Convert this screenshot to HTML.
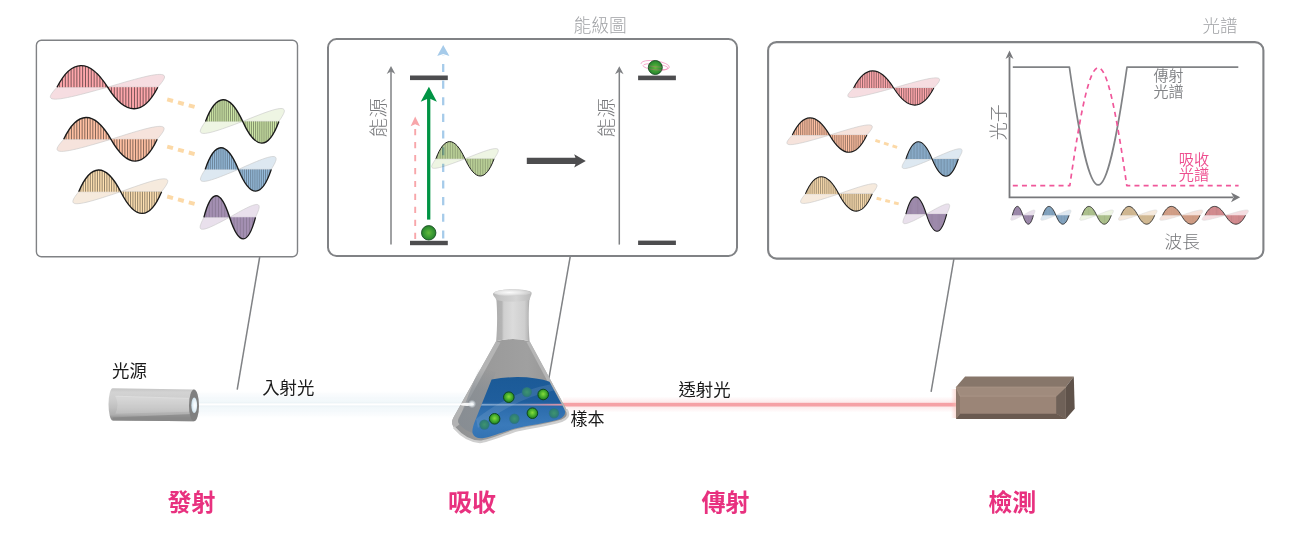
<!DOCTYPE html>
<html lang="zh-Hant"><head><meta charset="utf-8"><title>光譜</title>
<style>
html,body{margin:0;padding:0;background:#fff;}
body{width:1294px;height:541px;overflow:hidden;font-family:"Liberation Sans","Noto Sans CJK TC",sans-serif;}
svg{display:block;will-change:transform}
text{font-family:"Liberation Sans","Noto Sans CJK TC",sans-serif;}
.t{font-weight:300;fill:#a0a2a5;font-size:17.3px}
.ax{font-weight:300;fill:#77787b;font-size:18.5px}
.lb{font-weight:400;fill:#1a1a1a;font-size:17.4px}
.st{font-weight:700;fill:#e8317f;font-size:24px}
</style></head><body>
<svg width="1294" height="541" viewBox="0 0 1294 541">
<defs>
<linearGradient id="cyl" x1="0" y1="0" x2="0" y2="1"><stop offset="0" stop-color="#c4c4c4"/><stop offset="0.12" stop-color="#d3d3d3"/><stop offset="0.35" stop-color="#cdcdcd"/><stop offset="0.6" stop-color="#bfbfbf"/><stop offset="0.8" stop-color="#aeaeae"/><stop offset="0.9" stop-color="#919191"/><stop offset="1" stop-color="#8a8a8a"/></linearGradient>
<linearGradient id="beam" x1="0" y1="0" x2="0" y2="1"><stop offset="0" stop-color="#eaf3f8" stop-opacity="0"/><stop offset="0.28" stop-color="#edf5f9" stop-opacity="0.6"/><stop offset="0.44" stop-color="#f1f7fa" stop-opacity="0.95"/><stop offset="0.56" stop-color="#f1f7fa" stop-opacity="0.95"/><stop offset="0.72" stop-color="#edf5f9" stop-opacity="0.6"/><stop offset="1" stop-color="#eaf3f8" stop-opacity="0"/></linearGradient>
<linearGradient id="rglow" x1="0" y1="0" x2="0" y2="1"><stop offset="0" stop-color="#f9c6c8" stop-opacity="0"/><stop offset="0.5" stop-color="#f9c6c8" stop-opacity="0.5"/><stop offset="1" stop-color="#f9c6c8" stop-opacity="0"/></linearGradient>
<linearGradient id="rend" x1="0" y1="0" x2="1" y2="0"><stop offset="0" stop-color="#f9b9b4" stop-opacity="0"/><stop offset="1" stop-color="#f9c3b8" stop-opacity="0.6"/></linearGradient>
<linearGradient id="inbeam" x1="0" y1="0" x2="1" y2="0"><stop offset="0" stop-color="#dbe7f5" stop-opacity="0.55"/><stop offset="0.45" stop-color="#b9cbe6" stop-opacity="0.5"/><stop offset="0.75" stop-color="#e39aae" stop-opacity="0.8"/><stop offset="1" stop-color="#f59aa0" stop-opacity="0.95"/></linearGradient>
<radialGradient id="glow" cx="0.5" cy="0.5" r="0.5"><stop offset="0" stop-color="#ffffff" stop-opacity="0.95"/><stop offset="0.5" stop-color="#eef4f8" stop-opacity="0.7"/><stop offset="1" stop-color="#dfe9f0" stop-opacity="0"/></radialGradient>
<radialGradient id="hole" cx="0.6" cy="0.5" r="0.6"><stop offset="0" stop-color="#ffffff"/><stop offset="0.6" stop-color="#e3f0f7"/><stop offset="1" stop-color="#c4d9e4"/></radialGradient>
<radialGradient id="ball" cx="0.5" cy="0.5" r="0.55"><stop offset="0" stop-color="#64b93c"/><stop offset="0.55" stop-color="#3a9a34"/><stop offset="1" stop-color="#237a2a"/></radialGradient>
<radialGradient id="ballb" cx="0.5" cy="0.45" r="0.55"><stop offset="0" stop-color="#86dc3c"/><stop offset="0.55" stop-color="#45ad2c"/><stop offset="1" stop-color="#1d7a24"/></radialGradient>
<radialGradient id="balld" cx="0.5" cy="0.5" r="0.5"><stop offset="0" stop-color="#3f9470"/><stop offset="0.75" stop-color="#2f7f74"/><stop offset="1" stop-color="#2a6f86" stop-opacity="0.85"/></radialGradient>
<linearGradient id="neck" x1="0" y1="0" x2="1" y2="0"><stop offset="0" stop-color="#adadad"/><stop offset="0.17" stop-color="#b4b4b4"/><stop offset="0.23" stop-color="#cfcfcf"/><stop offset="0.5" stop-color="#dbdbdb"/><stop offset="0.85" stop-color="#cecece"/><stop offset="0.94" stop-color="#bcbcbc"/><stop offset="1" stop-color="#a5a5a5"/></linearGradient>
<linearGradient id="rim" x1="0" y1="0" x2="1" y2="0"><stop offset="0" stop-color="#b9b9b9"/><stop offset="0.2" stop-color="#c6c6c6"/><stop offset="0.6" stop-color="#d4d4d4"/><stop offset="1" stop-color="#b9b9b9"/></linearGradient>
<radialGradient id="rimtop" cx="0.42" cy="0.45" r="0.62"><stop offset="0" stop-color="#fbfbfb"/><stop offset="0.5" stop-color="#e6e6e6"/><stop offset="1" stop-color="#c6c6c6"/></radialGradient>
<linearGradient id="cone" x1="0" y1="0" x2="1" y2="0"><stop offset="0" stop-color="#8d8f91"/><stop offset="0.3" stop-color="#9a9a9a"/><stop offset="0.65" stop-color="#a0a0a0"/><stop offset="1" stop-color="#909090"/></linearGradient>
<linearGradient id="liq" x1="0" y1="0" x2="0" y2="1"><stop offset="0" stop-color="#1b5a97"/><stop offset="0.40" stop-color="#1f5e9d"/><stop offset="0.50" stop-color="#2c6cac"/><stop offset="0.78" stop-color="#3a7aba"/><stop offset="1" stop-color="#3373b3"/></linearGradient>
<linearGradient id="lglass" x1="0" y1="0" x2="0" y2="1"><stop offset="0" stop-color="#858c93" stop-opacity="0"/><stop offset="0.35" stop-color="#858c93" stop-opacity="0.6"/><stop offset="1" stop-color="#858c93" stop-opacity="0.8"/></linearGradient>
</defs>

<g fill="none" stroke="#808285">
<rect x="36.4" y="40.2" width="261.1" height="216.6" rx="5" ry="5" stroke-width="1.4"/>
<rect x="328" y="39.1" width="409" height="216.8" rx="8.5" ry="8.5" stroke-width="2"/>
<rect x="768.1" y="42.1" width="495.3" height="216.5" rx="8.5" ry="8.5" stroke-width="2.1"/>
</g>
<g fill="none" stroke="#808285" stroke-width="1.5">
<path d="M259.7 257L237.2 389.6"/>
<path d="M570.3 256.2L548.9 378.3"/>
<path d="M953.9 258.9L931.1 391.8"/>
</g>
<text class="t" style="font-size:17.8px" x="573.5" y="31.6">能級圖</text>
<text class="t" style="font-size:17.5px" x="1202.4" y="31.6">光譜</text>
<g id="box1">
<path d="M57 87.2 L55.58 88.76 L54.23 90.3 L52.99 91.79 L51.93 93.19 L51.11 94.5 L50.56 95.68 L50.34 96.71 L50.48 97.58 L51.03 98.28 L52 98.78 L53.42 99.09 L55.3 99.19 L57.64 99.09 L60.44 98.78 L63.68 98.28 L67.35 97.58 L71.42 96.71 L75.86 95.68 L80.62 94.5 L85.67 93.19 L90.94 91.79 L96.4 90.3 L101.97 88.76 L107.6 87.2 L113.22 85.53 L118.77 83.88 L124.21 82.29 L129.47 80.79 L134.49 79.39 L139.24 78.13 L143.66 77.02 L147.72 76.09 L151.37 75.35 L154.6 74.81 L157.38 74.48 L159.7 74.37 L161.56 74.48 L162.96 74.81 L163.92 75.35 L164.45 76.09 L164.58 77.02 L164.34 78.13 L163.78 79.39 L162.93 80.79 L161.86 82.29 L160.6 83.88 L159.23 85.53 L157.8 87.2Z" fill="#f6dde1" stroke="#c6c6c6" stroke-width="0.6"/>
<path d="M57 87.2C71.37 59.16 89.08 57.66 107.6 87.2C125.97 116.74 143.54 115.24 157.8 87.2Z" fill="#ffa7ac"/>
<path d="M59.59 87.2V82.51M62.47 87.2V78.04M65.35 87.2V74.35M68.23 87.2V71.34M71.11 87.2V69.02M73.99 87.2V67.31M76.87 87.2V66.2M79.75 87.2V65.67M82.63 87.2V65.69M85.51 87.2V66.25M88.39 87.2V67.32M91.27 87.2V68.91M94.15 87.2V71M97.03 87.2V73.59M99.91 87.2V76.66M102.79 87.2V80.21M105.67 87.2V84.24M108.55 87.2V88.69M111.43 87.2V92.92M114.31 87.2V96.66M117.19 87.2V99.92M120.07 87.2V102.66M122.95 87.2V104.92M125.83 87.2V106.66M128.71 87.2V107.9M131.59 87.2V108.62M134.47 87.2V108.78M137.35 87.2V108.38M140.23 87.2V107.42M143.11 87.2V105.86M145.99 87.2V103.65M148.87 87.2V100.8M151.75 87.2V97.22M154.63 87.2V92.9" stroke="#1a1a1a" stroke-opacity="0.85" stroke-width="0.6854399999999999" fill="none"/>
<path d="M57 87.2C71.37 59.16 89.08 57.66 107.6 87.2C125.97 116.74 143.54 115.24 157.8 87.2" fill="none" stroke="#1a1a1a" stroke-width="1.35" stroke-linejoin="round"/>
<path d="M63.7 139.3 L62.31 140.88 L60.99 142.43 L59.77 143.93 L58.73 145.35 L57.9 146.67 L57.34 147.86 L57.1 148.9 L57.2 149.78 L57.68 150.48 L58.57 150.99 L59.89 151.3 L61.64 151.4 L63.83 151.3 L66.46 150.99 L69.51 150.48 L72.97 149.78 L76.81 148.9 L80.99 147.86 L85.49 146.67 L90.26 145.35 L95.25 143.93 L100.4 142.43 L105.67 140.88 L111 139.3 L116.28 137.61 L121.5 135.95 L126.61 134.35 L131.56 132.83 L136.28 131.42 L140.73 130.15 L144.87 129.03 L148.67 128.09 L152.08 127.34 L155.09 126.8 L157.67 126.46 L159.81 126.35 L161.52 126.46 L162.79 126.8 L163.63 127.34 L164.07 128.09 L164.12 129.03 L163.83 130.15 L163.23 131.42 L162.36 132.83 L161.26 134.35 L160 135.95 L158.63 137.61 L157.2 139.3Z" fill="#f6e3dc" stroke="#c6c6c6" stroke-width="0.6"/>
<path d="M63.7 139.3C77.13 111 93.69 109.48 111 139.3C127.91 169.12 144.08 167.6 157.2 139.3Z" fill="#ffc0a2"/>
<path d="M66.1 139.3V134.6M68.78 139.3V130.11M71.45 139.3V126.4M74.12 139.3V123.38M76.79 139.3V121.02M79.46 139.3V119.29M82.13 139.3V118.15M84.8 139.3V117.58M87.48 139.3V117.57M90.15 139.3V118.1M92.82 139.3V119.13M95.49 139.3V120.67M98.16 139.3V122.71M100.83 139.3V125.25M103.5 139.3V128.28M106.18 139.3V131.78M108.85 139.3V135.76M111.52 139.3V140.19M114.19 139.3V144.56M116.86 139.3V148.42M119.53 139.3V151.79M122.2 139.3V154.65M124.88 139.3V156.99M127.55 139.3V158.81M130.22 139.3V160.11M132.89 139.3V160.88M135.56 139.3V161.09M138.23 139.3V160.72M140.9 139.3V159.77M143.58 139.3V158.21M146.25 139.3V155.98M148.92 139.3V153.1M151.59 139.3V149.47M154.26 139.3V145.1" stroke="#1a1a1a" stroke-opacity="0.85" stroke-width="0.6357999999999999" fill="none"/>
<path d="M63.7 139.3C77.13 111 93.69 109.48 111 139.3C127.91 169.12 144.08 167.6 157.2 139.3" fill="none" stroke="#1a1a1a" stroke-width="1.35" stroke-linejoin="round"/>
<path d="M78.7 191.7 L77.47 193.27 L76.3 194.82 L75.23 196.31 L74.3 197.72 L73.57 199.03 L73.08 200.22 L72.86 201.25 L72.96 202.13 L73.39 202.83 L74.18 203.33 L75.35 203.64 L76.9 203.74 L78.85 203.64 L81.18 203.33 L83.89 202.83 L86.96 202.13 L90.36 201.25 L94.08 200.22 L98.07 199.03 L102.3 197.72 L106.73 196.31 L111.3 194.82 L115.97 193.27 L120.7 191.7 L125.38 190.02 L130.01 188.36 L134.54 186.77 L138.92 185.26 L143.1 183.86 L147.05 182.59 L150.72 181.48 L154.08 180.54 L157.1 179.79 L159.76 179.25 L162.05 178.92 L163.95 178.81 L165.46 178.92 L166.58 179.25 L167.32 179.79 L167.71 180.54 L167.76 181.48 L167.5 182.59 L166.96 183.86 L166.18 185.26 L165.21 186.77 L164.09 188.36 L162.87 190.02 L161.6 191.7Z" fill="#f6eadd" stroke="#c6c6c6" stroke-width="0.6"/>
<path d="M78.7 191.7C90.63 163.53 105.33 162.02 120.7 191.7C135.67 221.38 149.98 219.87 161.6 191.7Z" fill="#ffe1b2"/>
<path d="M80.83 191.7V187.02M83.2 191.7V182.57M85.57 191.7V178.88M87.94 191.7V175.87M90.31 191.7V173.52M92.67 191.7V171.8M95.04 191.7V170.66M97.41 191.7V170.08M99.78 191.7V170.07M102.15 191.7V170.58M104.52 191.7V171.6M106.89 191.7V173.13M109.25 191.7V175.15M111.62 191.7V177.66M113.99 191.7V180.65M116.36 191.7V184.12M118.73 191.7V188.07M123.47 191.7V196.83M125.83 191.7V200.69M128.2 191.7V204.06M130.57 191.7V206.92M132.94 191.7V209.27M135.31 191.7V211.1M137.68 191.7V212.4M140.05 191.7V213.17M142.41 191.7V213.39M144.78 191.7V213.03M147.15 191.7V212.08M149.52 191.7V210.54M151.89 191.7V208.32M154.26 191.7V205.45M156.63 191.7V201.84M158.99 191.7V197.48" stroke="#1a1a1a" stroke-opacity="0.85" stroke-width="0.56372" fill="none"/>
<path d="M78.7 191.7C90.63 163.53 105.33 162.02 120.7 191.7C135.67 221.38 149.98 219.87 161.6 191.7" fill="none" stroke="#1a1a1a" stroke-width="1.35" stroke-linejoin="round"/>
<path d="M205.5 121.4 L204.42 122.97 L203.38 124.52 L202.43 126.01 L201.61 127.42 L200.96 128.73 L200.53 129.92 L200.34 130.95 L200.42 131.83 L200.8 132.53 L201.5 133.03 L202.54 133.34 L203.91 133.44 L205.64 133.34 L207.7 133.03 L210.1 132.53 L212.82 131.83 L215.84 130.95 L219.13 129.92 L222.66 128.73 L226.41 127.42 L230.33 126.01 L234.38 124.52 L238.52 122.97 L242.7 121.4 L246.84 119.72 L250.94 118.06 L254.95 116.47 L258.83 114.96 L262.53 113.56 L266.02 112.29 L269.27 111.18 L272.25 110.24 L274.92 109.49 L277.28 108.95 L279.3 108.62 L280.99 108.51 L282.32 108.62 L283.31 108.95 L283.97 109.49 L284.31 110.24 L284.36 111.18 L284.12 112.29 L283.65 113.56 L282.96 114.96 L282.1 116.47 L281.11 118.06 L280.03 119.72 L278.9 121.4Z" fill="#eef5e3" stroke="#c6c6c6" stroke-width="0.6"/>
<path d="M205.5 121.4C216.06 93.23 229.08 91.72 242.7 121.4C255.95 151.08 268.62 149.57 278.9 121.4Z" fill="#cfe8a8"/>
<path d="M207.39 121.4V116.72M209.48 121.4V112.27M211.58 121.4V108.58M213.68 121.4V105.57M215.78 121.4V103.22M217.87 121.4V101.5M219.97 121.4V100.36M222.07 121.4V99.78M224.16 121.4V99.77M226.26 121.4V100.28M228.36 121.4V101.3M230.46 121.4V102.82M232.55 121.4V104.84M234.65 121.4V107.34M236.75 121.4V110.34M238.84 121.4V113.8M240.94 121.4V117.74M245.14 121.4V126.51M247.23 121.4V130.38M249.33 121.4V133.74M251.43 121.4V136.61M253.52 121.4V138.96M255.62 121.4V140.79M257.72 121.4V142.1M259.82 121.4V142.87M261.91 121.4V143.09M264.01 121.4V142.73M266.11 121.4V141.79M268.2 121.4V140.24M270.3 121.4V138.03M272.4 121.4V135.16M274.5 121.4V131.54M276.59 121.4V127.18" stroke="#1a1a1a" stroke-opacity="0.85" stroke-width="0.49912" fill="none"/>
<path d="M205.5 121.4C216.06 93.23 229.08 91.72 242.7 121.4C255.95 151.08 268.62 149.57 278.9 121.4" fill="none" stroke="#1a1a1a" stroke-width="1.35" stroke-linejoin="round"/>
<path d="M205.2 169.4 L204.21 170.97 L203.26 172.52 L202.39 174.01 L201.64 175.42 L201.05 176.73 L200.65 177.92 L200.46 178.95 L200.52 179.83 L200.86 180.53 L201.48 181.03 L202.39 181.34 L203.62 181.44 L205.16 181.34 L207.01 181.03 L209.16 180.53 L211.59 179.83 L214.3 178.95 L217.25 177.92 L220.42 176.73 L223.78 175.42 L227.29 174.01 L230.93 172.52 L234.64 170.97 L238.4 169.4 L242.14 167.72 L245.85 166.06 L249.47 164.47 L252.97 162.96 L256.32 161.56 L259.48 160.29 L262.42 159.18 L265.11 158.24 L267.53 157.49 L269.67 156.95 L271.5 156.62 L273.03 156.51 L274.24 156.62 L275.15 156.95 L275.76 157.49 L276.08 158.24 L276.13 159.18 L275.93 160.29 L275.51 161.56 L274.91 162.96 L274.14 164.47 L273.26 166.06 L272.3 167.72 L271.3 169.4Z" fill="#dde8f1" stroke="#c6c6c6" stroke-width="0.6"/>
<path d="M205.2 169.4C214.63 141.23 226.25 139.72 238.4 169.4C250.44 199.08 261.96 197.57 271.3 169.4Z" fill="#9cc4e6"/>
<path d="M206.9 169.4V164.69M208.79 169.4V160.2M210.68 169.4V156.49M212.57 169.4V153.48M214.45 169.4V151.14M216.34 169.4V149.42M218.23 169.4V148.3M220.12 169.4V147.77M222.01 169.4V147.79M223.9 169.4V148.35M225.79 169.4V149.42M227.67 169.4V151.01M229.56 169.4V153.11M231.45 169.4V155.7M233.34 169.4V158.78M235.23 169.4V162.35M237.12 169.4V166.39M239.01 169.4V170.85M240.89 169.4V175.11M242.78 169.4V178.88M244.67 169.4V182.15M246.56 169.4V184.92M248.45 169.4V187.18M250.34 169.4V188.94M252.23 169.4V190.19M254.11 169.4V190.91M256 169.4V191.08M257.89 169.4V190.69M259.78 169.4V189.72M261.67 169.4V188.15M263.56 169.4V185.93M265.45 169.4V183.07M267.33 169.4V179.47M269.22 169.4V175.13" stroke="#1a1a1a" stroke-opacity="0.85" stroke-width="0.44947999999999994" fill="none"/>
<path d="M205.2 169.4C214.63 141.23 226.25 139.72 238.4 169.4C250.44 199.08 261.96 197.57 271.3 169.4" fill="none" stroke="#1a1a1a" stroke-width="1.35" stroke-linejoin="round"/>
<path d="M203.9 217.3 L203.12 218.86 L202.37 220.4 L201.68 221.89 L201.09 223.29 L200.62 224.6 L200.29 225.78 L200.14 226.81 L200.18 227.68 L200.43 228.38 L200.9 228.88 L201.61 229.19 L202.56 229.29 L203.75 229.19 L205.19 228.88 L206.85 228.38 L208.74 227.68 L210.85 226.81 L213.14 225.78 L215.61 224.6 L218.22 223.29 L220.96 221.89 L223.79 220.4 L226.68 218.86 L229.6 217.3 L232.53 215.63 L235.43 213.98 L238.27 212.39 L241.01 210.89 L243.63 209.49 L246.11 208.23 L248.41 207.12 L250.52 206.19 L252.42 205.45 L254.1 204.91 L255.54 204.58 L256.74 204.47 L257.7 204.58 L258.41 204.91 L258.9 205.45 L259.16 206.19 L259.2 207.12 L259.06 208.23 L258.74 209.49 L258.28 210.89 L257.69 212.39 L257.01 213.98 L256.27 215.63 L255.5 217.3Z" fill="#e9e0ec" stroke="#c6c6c6" stroke-width="0.6"/>
<path d="M203.9 217.3C211.2 189.26 220.19 187.76 229.6 217.3C239.08 246.84 248.14 245.34 255.5 217.3Z" fill="#bda5ce"/>
<path d="M205.23 217.3V212.57M206.7 217.3V208.07M208.18 217.3V204.37M209.65 217.3V201.36M211.12 217.3V199.04M212.6 217.3V197.34M214.07 217.3V196.25M215.55 217.3V195.76M217.02 217.3V195.81M218.5 217.3V196.41M219.97 217.3V197.54M221.44 217.3V199.19M222.92 217.3V201.35M224.39 217.3V204M225.87 217.3V207.15M227.34 217.3V210.79M228.82 217.3V214.91M230.29 217.3V219.4M231.76 217.3V223.52M233.24 217.3V227.17M234.71 217.3V230.33M236.19 217.3V233.01M237.66 217.3V235.2M239.14 217.3V236.89M240.61 217.3V238.08M242.08 217.3V238.75M243.56 217.3V238.87M245.03 217.3V238.45M246.51 217.3V237.47M247.98 217.3V235.88M249.46 217.3V233.67M250.93 217.3V230.82M252.4 217.3V227.25M253.88 217.3V222.96" stroke="#1a1a1a" stroke-opacity="0.85" stroke-width="0.35087999999999997" fill="none"/>
<path d="M203.9 217.3C211.2 189.26 220.19 187.76 229.6 217.3C239.08 246.84 248.14 245.34 255.5 217.3" fill="none" stroke="#1a1a1a" stroke-width="1.35" stroke-linejoin="round"/>
<g stroke="#fcd9a7" stroke-width="4" stroke-dasharray="6 5.2" fill="none">
<path d="M167.2 99.4L196 107.3"/><path d="M167.2 146.6L196 154.5"/><path d="M167.2 196.5L196 204.3"/>
</g></g>
<g id="box2">
<path d="M391 244.6V70.8" stroke="#808285" stroke-width="1.5" fill="none"/><path d="M391 66L395.3 74L391 71.44L386.7 74Z" fill="#808285"/>
<path d="M619.3 244.6V71" stroke="#808285" stroke-width="1.5" fill="none"/><path d="M619.3 66.2L623.6 74.2L619.3 71.64L615 74.2Z" fill="#808285"/>
<text class="ax" style="font-size:18px" transform="translate(385.1 137.4) rotate(-90) scale(1.09 1)">能源</text>
<text class="ax" style="font-size:18px" transform="translate(613.2 137.4) rotate(-90) scale(1.09 1)">能源</text>
<g fill="#4d4d4f">
<rect x="410" y="75.5" width="37.8" height="4.6"/><rect x="410" y="240.8" width="37.8" height="4.4"/>
<rect x="638.1" y="75.6" width="37.8" height="4.6"/><rect x="638.1" y="240.6" width="37.8" height="4.4"/>
</g>
<path d="M443.2 238.5V55" stroke="#a6cbea" stroke-width="2.3" stroke-dasharray="8.1 8.55" fill="none"/>
<path d="M443.2 45L449.4 56L443.2 54L437.2 56Z" fill="#a6cbea"/>
<path d="M415.2 238.9V125" stroke="#f8a6aa" stroke-width="1.9" stroke-dasharray="6.2 6.75" fill="none"/>
<path d="M415.2 116.6L420 126.2L415.2 124.2L410.6 126.2Z" fill="#f8a6aa"/>
<path d="M428.7 219.6V98" stroke="#009444" stroke-width="3.3" fill="none"/>
<path d="M428.9 86.8L436.9 101.8L428.9 98.2L420.7 101.8Z" fill="#009444"/>
<g style="mix-blend-mode:multiply">
<path d="M435.9 158.8 L435.02 160.05 L434.18 161.27 L433.41 162.45 L432.75 163.57 L432.22 164.61 L431.86 165.55 L431.69 166.37 L431.74 167.07 L432.03 167.62 L432.57 168.02 L433.37 168.26 L434.44 168.35 L435.79 168.26 L437.42 168.02 L439.3 167.62 L441.44 167.07 L443.81 166.37 L446.41 165.55 L449.19 164.61 L452.15 163.57 L455.24 162.45 L458.43 161.27 L461.7 160.05 L465 158.8 L468.3 157.47 L471.57 156.16 L474.76 154.89 L477.85 153.69 L480.81 152.58 L483.59 151.58 L486.19 150.7 L488.56 149.95 L490.7 149.36 L492.58 148.93 L494.21 148.67 L495.55 148.59 L496.63 148.67 L497.43 148.93 L497.97 149.36 L498.26 149.95 L498.31 150.7 L498.14 151.58 L497.78 152.58 L497.25 153.69 L496.59 154.89 L495.82 156.16 L494.98 157.47 L494.1 158.8Z" fill="#eef5e3" stroke="#c6c6c6" stroke-width="0.6"/>
<path d="M435.9 158.8C444.16 136.47 454.35 135.27 465 158.8C475.65 182.33 485.84 181.13 494.1 158.8Z" fill="#cfe8a8"/>
<path d="M437.4 158.8V155.05M439.06 158.8V151.48M440.72 158.8V148.53M442.39 158.8V146.14M444.05 158.8V144.29M445.71 158.8V142.94M447.37 158.8V142.05M449.04 158.8V141.65M450.7 158.8V141.68M452.36 158.8V142.14M454.03 158.8V143.01M455.69 158.8V144.31M457.35 158.8V146M459.01 158.8V148.09M460.68 158.8V150.56M462.34 158.8V153.43M464 158.8V156.67M465.67 158.8V160.23M467.33 158.8V163.56M468.99 158.8V166.5M470.65 158.8V169.05M472.32 158.8V171.21M473.98 158.8V172.98M475.64 158.8V174.35M477.31 158.8V175.32M478.97 158.8V175.87M480.63 158.8V175.98M482.29 158.8V175.65M483.96 158.8V174.88M485.62 158.8V173.62M487.28 158.8V171.87M488.95 158.8V169.6M490.61 158.8V166.75M492.27 158.8V163.32" stroke="#1a1a1a" stroke-opacity="0.85" stroke-width="0.39576" fill="none"/>
<path d="M435.9 158.8C444.16 136.47 454.35 135.27 465 158.8C475.65 182.33 485.84 181.13 494.1 158.8" fill="none" stroke="#1a1a1a" stroke-width="1.0" stroke-linejoin="round"/>
</g>
<circle cx="428.7" cy="232.8" r="7.2" fill="url(#ball)" stroke="#174f22" stroke-width="0.9"/>
<path d="M526.8 160.9H577" stroke="#4d4d4f" stroke-width="6.2" fill="none"/>
<path d="M585.8 160.9L574.2 167.6L576.6 160.9L574.2 154.2Z" fill="#4d4d4f"/>
<g fill="none" stroke="#ee5a9b" stroke-width="0.7" opacity="0.7">
<ellipse cx="655.3" cy="65.2" rx="14.2" ry="4.3" transform="rotate(8 655.3 65.2)" stroke-dasharray="46 14" stroke-dashoffset="-30"/>
<ellipse cx="655.6" cy="66.9" rx="12.6" ry="3" transform="rotate(6 655.6 66.9)"/>
</g>
<circle cx="655.3" cy="67.5" r="7" fill="url(#ball)" stroke="#174f22" stroke-width="0.9"/>
<g fill="none" stroke="#ee5a9b" stroke-width="0.7" opacity="0.45">
<path d="M648.5 65.8Q655 67 662.2 67.2"/><path d="M648.8 68.8Q655 70 662 70.2"/>
</g>
</g>
<g id="box3">
<path d="M853.6 88 L852.39 89.24 L851.23 90.46 L850.17 91.63 L849.26 92.75 L848.53 93.78 L848.03 94.71 L847.8 95.53 L847.87 96.22 L848.26 96.77 L849 97.17 L850.11 97.41 L851.6 97.49 L853.45 97.41 L855.69 97.17 L858.29 96.77 L861.23 96.22 L864.51 95.53 L868.08 94.71 L871.92 93.78 L875.99 92.75 L880.25 91.63 L884.65 90.46 L889.15 89.24 L893.7 88 L898.25 86.67 L902.75 85.37 L907.15 84.11 L911.41 82.92 L915.48 81.82 L919.32 80.82 L922.89 79.94 L926.17 79.21 L929.11 78.62 L931.71 78.19 L933.95 77.93 L935.8 77.85 L937.29 77.93 L938.4 78.19 L939.14 78.62 L939.53 79.21 L939.6 79.94 L939.37 80.82 L938.87 81.82 L938.14 82.92 L937.23 84.11 L936.17 85.37 L935.01 86.67 L933.8 88Z" fill="#f6dde1" stroke="#c6c6c6" stroke-width="0.6"/>
<path d="M853.6 88C864.99 65.8 879.02 64.61 893.7 88C908.38 111.39 922.41 110.2 933.8 88Z" fill="#ffa7ac"/>
<path d="M855.66 88V84.27M857.95 88V80.72M860.25 88V77.79M862.54 88V75.41M864.83 88V73.57M867.12 88V72.23M869.41 88V71.35M871.7 88V70.95M873.99 88V70.98M876.29 88V71.44M878.58 88V72.31M880.87 88V73.59M883.16 88V75.27M885.45 88V77.35M887.74 88V79.81M890.03 88V82.66M892.33 88V85.89M894.62 88V89.42M896.91 88V92.73M899.2 88V95.66M901.49 88V98.19M903.78 88V100.34M906.07 88V102.1M908.37 88V103.46M910.66 88V104.42M912.95 88V104.97M915.24 88V105.08M917.53 88V104.76M919.82 88V103.99M922.11 88V102.74M924.41 88V100.99M926.7 88V98.73M928.99 88V95.9M931.28 88V92.5" stroke="#1a1a1a" stroke-opacity="0.85" stroke-width="0.54536" fill="none"/>
<path d="M853.6 88C864.99 65.8 879.02 64.61 893.7 88C908.38 111.39 922.41 110.2 933.8 88" fill="none" stroke="#1a1a1a" stroke-width="1.1" stroke-linejoin="round"/>
<path d="M792.3 135.1 L791.18 136.35 L790.1 137.57 L789.11 138.75 L788.26 139.87 L787.58 140.91 L787.12 141.85 L786.9 142.67 L786.97 143.37 L787.33 143.92 L788.03 144.32 L789.06 144.56 L790.43 144.65 L792.16 144.56 L794.24 144.32 L796.66 143.92 L799.4 143.37 L802.45 142.67 L805.77 141.85 L809.34 140.91 L813.13 139.87 L817.09 138.75 L821.18 137.57 L825.37 136.35 L829.6 135.1 L833.83 133.77 L838.02 132.46 L842.11 131.19 L846.07 129.99 L849.86 128.88 L853.43 127.88 L856.75 127 L859.8 126.25 L862.54 125.66 L864.96 125.23 L867.04 124.97 L868.76 124.89 L870.14 124.97 L871.17 125.23 L871.87 125.66 L872.23 126.25 L872.3 127 L872.08 127.88 L871.62 128.88 L870.94 129.99 L870.09 131.19 L869.1 132.46 L868.02 133.77 L866.9 135.1Z" fill="#f6e3dc" stroke="#c6c6c6" stroke-width="0.6"/>
<path d="M792.3 135.1C802.89 112.77 815.95 111.57 829.6 135.1C843.25 158.63 856.31 157.43 866.9 135.1Z" fill="#ffc0a2"/>
<path d="M794.22 135.1V131.35M796.35 135.1V127.78M798.48 135.1V124.83M800.61 135.1V122.44M802.74 135.1V120.59M804.88 135.1V119.24M807.01 135.1V118.35M809.14 135.1V117.95M811.27 135.1V117.98M813.4 135.1V118.44M815.53 135.1V119.31M817.66 135.1V120.61M819.8 135.1V122.3M821.93 135.1V124.39M824.06 135.1V126.86M826.19 135.1V129.73M828.32 135.1V132.97M830.45 135.1V136.53M832.58 135.1V139.86M834.72 135.1V142.8M836.85 135.1V145.35M838.98 135.1V147.51M841.11 135.1V149.28M843.24 135.1V150.65M845.37 135.1V151.62M847.5 135.1V152.17M849.64 135.1V152.28M851.77 135.1V151.95M853.9 135.1V151.18M856.03 135.1V149.92M858.16 135.1V148.17M860.29 135.1V145.9M862.42 135.1V143.05M864.56 135.1V139.62" stroke="#1a1a1a" stroke-opacity="0.85" stroke-width="0.50728" fill="none"/>
<path d="M792.3 135.1C802.89 112.77 815.95 111.57 829.6 135.1C843.25 158.63 856.31 157.43 866.9 135.1" fill="none" stroke="#1a1a1a" stroke-width="1.1" stroke-linejoin="round"/>
<path d="M805.4 193.9 L804.39 195.15 L803.43 196.37 L802.55 197.55 L801.78 198.67 L801.18 199.71 L800.76 200.65 L800.57 201.47 L800.62 202.17 L800.95 202.72 L801.57 203.12 L802.5 203.36 L803.73 203.45 L805.28 203.36 L807.14 203.12 L809.3 202.72 L811.76 202.17 L814.48 201.47 L817.46 200.65 L820.66 199.71 L824.05 198.67 L827.6 197.55 L831.26 196.37 L835.01 195.15 L838.8 193.9 L842.59 192.57 L846.34 191.26 L850 189.99 L853.55 188.79 L856.94 187.68 L860.14 186.68 L863.12 185.8 L865.84 185.05 L868.3 184.46 L870.46 184.03 L872.32 183.77 L873.87 183.69 L875.1 183.77 L876.03 184.03 L876.65 184.46 L876.98 185.05 L877.03 185.8 L876.84 186.68 L876.42 187.68 L875.82 188.79 L875.05 189.99 L874.17 191.26 L873.21 192.57 L872.2 193.9Z" fill="#f6eadd" stroke="#c6c6c6" stroke-width="0.6"/>
<path d="M805.4 193.9C814.89 171.57 826.58 170.37 838.8 193.9C851.02 217.43 862.71 216.23 872.2 193.9Z" fill="#ffe1b2"/>
<path d="M807.12 193.9V190.15M809.03 193.9V186.58M810.93 193.9V183.63M812.84 193.9V181.24M814.75 193.9V179.39M816.66 193.9V178.04M818.57 193.9V177.15M820.48 193.9V176.75M822.39 193.9V176.78M824.29 193.9V177.24M826.2 193.9V178.11M828.11 193.9V179.41M830.02 193.9V181.1M831.93 193.9V183.19M833.84 193.9V185.66M835.75 193.9V188.53M837.65 193.9V191.77M839.56 193.9V195.33M841.47 193.9V198.66M843.38 193.9V201.6M845.29 193.9V204.15M847.2 193.9V206.31M849.11 193.9V208.08M851.01 193.9V209.45M852.92 193.9V210.42M854.83 193.9V210.97M856.74 193.9V211.08M858.65 193.9V210.75M860.56 193.9V209.98M862.47 193.9V208.72M864.37 193.9V206.97M866.28 193.9V204.7M868.19 193.9V201.85M870.1 193.9V198.42" stroke="#1a1a1a" stroke-opacity="0.85" stroke-width="0.45424" fill="none"/>
<path d="M805.4 193.9C814.89 171.57 826.58 170.37 838.8 193.9C851.02 217.43 862.71 216.23 872.2 193.9" fill="none" stroke="#1a1a1a" stroke-width="1.1" stroke-linejoin="round"/>
<path d="M905.9 159 L905.11 160.25 L904.35 161.47 L903.66 162.65 L903.06 163.77 L902.59 164.81 L902.26 165.75 L902.11 166.57 L902.15 167.27 L902.41 167.82 L902.9 168.22 L903.62 168.46 L904.59 168.55 L905.8 168.46 L907.26 168.22 L908.96 167.82 L910.89 167.27 L913.03 166.57 L915.36 165.75 L917.87 164.81 L920.53 163.77 L923.31 162.65 L926.19 161.47 L929.13 160.25 L932.1 159 L935.07 157.67 L938.01 156.36 L940.89 155.09 L943.67 153.89 L946.33 152.78 L948.84 151.78 L951.17 150.9 L953.31 150.15 L955.24 149.56 L956.94 149.13 L958.4 148.87 L959.61 148.79 L960.58 148.87 L961.3 149.13 L961.79 149.56 L962.05 150.15 L962.09 150.9 L961.94 151.78 L961.61 152.78 L961.14 153.89 L960.54 155.09 L959.85 156.36 L959.09 157.67 L958.3 159Z" fill="#dde8f1" stroke="#c6c6c6" stroke-width="0.6"/>
<path d="M905.9 159C913.34 136.67 922.51 135.47 932.1 159C941.69 182.53 950.86 181.33 958.3 159Z" fill="#9cc4e6"/>
<path d="M907.25 159V155.25M908.74 159V151.68M910.24 159V148.73M911.74 159V146.34M913.24 159V144.49M914.73 159V143.14M916.23 159V142.25M917.73 159V141.85M919.22 159V141.88M920.72 159V142.34M922.22 159V143.21M923.72 159V144.51M925.21 159V146.2M926.71 159V148.29M928.21 159V150.76M929.7 159V153.63M931.2 159V156.87M932.7 159V160.43M934.2 159V163.76M935.69 159V166.7M937.19 159V169.25M938.69 159V171.41M940.18 159V173.18M941.68 159V174.55M943.18 159V175.52M944.68 159V176.07M946.17 159V176.18M947.67 159V175.85M949.17 159V175.08M950.66 159V173.82M952.16 159V172.07M953.66 159V169.8M955.16 159V166.95M956.65 159V163.52" stroke="#1a1a1a" stroke-opacity="0.85" stroke-width="0.35631999999999997" fill="none"/>
<path d="M905.9 159C913.34 136.67 922.51 135.47 932.1 159C941.69 182.53 950.86 181.33 958.3 159" fill="none" stroke="#1a1a1a" stroke-width="1.1" stroke-linejoin="round"/>
<path d="M905.9 214.1 L905.29 215.35 L904.7 216.57 L904.16 217.75 L903.69 218.87 L903.32 219.91 L903.07 220.85 L902.95 221.67 L902.98 222.37 L903.18 222.92 L903.56 223.32 L904.13 223.56 L904.88 223.65 L905.83 223.56 L906.96 223.32 L908.28 222.92 L909.78 222.37 L911.45 221.67 L913.27 220.85 L915.22 219.91 L917.29 218.87 L919.46 217.75 L921.7 216.57 L923.99 215.35 L926.3 214.1 L928.61 212.77 L930.9 211.46 L933.14 210.19 L935.31 208.99 L937.38 207.88 L939.33 206.88 L941.15 206 L942.82 205.25 L944.32 204.66 L945.64 204.23 L946.77 203.97 L947.72 203.89 L948.47 203.97 L949.04 204.23 L949.42 204.66 L949.62 205.25 L949.65 206 L949.53 206.88 L949.28 207.88 L948.91 208.99 L948.44 210.19 L947.9 211.46 L947.31 212.77 L946.7 214.1Z" fill="#e9e0ec" stroke="#c6c6c6" stroke-width="0.6"/>
<path d="M905.9 214.1C911.69 191.77 918.83 190.57 926.3 214.1C933.77 237.63 940.91 236.43 946.7 214.1Z" fill="#bda5ce"/>
<path d="M906.95 214.1V210.35M908.11 214.1V206.78M909.28 214.1V203.83M910.45 214.1V201.44M911.61 214.1V199.59M912.78 214.1V198.24M913.94 214.1V197.35M915.11 214.1V196.95M916.27 214.1V196.98M917.44 214.1V197.44M918.61 214.1V198.31M919.77 214.1V199.61M920.94 214.1V201.3M922.1 214.1V203.39M923.27 214.1V205.86M924.43 214.1V208.73M925.6 214.1V211.97M926.77 214.1V215.53M927.93 214.1V218.86M929.1 214.1V221.8M930.26 214.1V224.35M931.43 214.1V226.51M932.59 214.1V228.28M933.76 214.1V229.65M934.93 214.1V230.62M936.09 214.1V231.17M937.26 214.1V231.28M938.42 214.1V230.95M939.59 214.1V230.18M940.75 214.1V228.92M941.92 214.1V227.17M943.09 214.1V224.9M944.25 214.1V222.05M945.42 214.1V218.62" stroke="#1a1a1a" stroke-opacity="0.85" stroke-width="0.27743999999999996" fill="none"/>
<path d="M905.9 214.1C911.69 191.77 918.83 190.57 926.3 214.1C933.77 237.63 940.91 236.43 946.7 214.1" fill="none" stroke="#1a1a1a" stroke-width="1.1" stroke-linejoin="round"/>
<g stroke="#fcd9a7" stroke-width="3" stroke-dasharray="4.8 4.2" fill="none">
<path d="M875.4 140.4L899 148"/><path d="M876.6 198.2L899 204"/>
</g>
<path d="M1009.5 57V197.3H1233" stroke="#77787b" stroke-width="1.8" fill="none"/>
<path d="M1009.5 50.5L1013.5 59L1009.5 56.6L1005.5 59Z" fill="#77787b"/>
<path d="M1240.2 197.3L1231 202.2L1233.6 197.3L1231 192.4Z" fill="#77787b"/>
<path d="M1012.8 67.1H1069.4C1091.9 224.2 1104.5 224.2 1127 67.1H1238.3" fill="none" stroke="#808285" stroke-width="1.7" stroke-linejoin="round"/>
<path d="M1012.8 185.7H1069.8C1092.3 28.4 1104.3 28.4 1126.8 185.7H1238.6" fill="none" stroke="#f0579a" stroke-width="1.7" stroke-dasharray="5 4.15" stroke-linejoin="round"/>
<text class="ax" style="font-size:18px" transform="translate(1004.6 140.2) rotate(-90)">光子</text>
<text class="ax" style="font-size:17.6px" x="1164.6" y="247.6">波長</text>
<text class="ax" style="font-size:15px;fill:#808285;font-weight:350" x="1153.6" y="81.3">傳射</text>
<text class="ax" style="font-size:15px;fill:#808285;font-weight:350" x="1153.6" y="96.8">光譜</text>
<text class="ax" style="font-size:15.2px;fill:#ee4d8f;font-weight:350" x="1178.8" y="165.2">吸收</text>
<text class="ax" style="font-size:15.2px;fill:#ee4d8f;font-weight:350" x="1178.8" y="180.4">光譜</text>
<path d="M1012.3 215.3 L1011.98 215.94 L1011.68 216.58 L1011.4 217.19 L1011.16 217.77 L1010.97 218.31 L1010.83 218.79 L1010.77 219.22 L1010.79 219.58 L1010.9 219.86 L1011.09 220.07 L1011.38 220.2 L1011.77 220.24 L1012.26 220.2 L1012.85 220.07 L1013.53 219.86 L1014.31 219.58 L1015.17 219.22 L1016.11 218.79 L1017.12 218.31 L1018.19 217.77 L1019.31 217.19 L1020.47 216.58 L1021.65 215.94 L1022.85 215.3 L1024.05 214.61 L1025.23 213.93 L1026.39 213.28 L1027.51 212.66 L1028.58 212.08 L1029.59 211.56 L1030.53 211.11 L1031.39 210.72 L1032.17 210.42 L1032.85 210.19 L1033.44 210.06 L1033.93 210.01 L1034.32 210.06 L1034.61 210.19 L1034.8 210.42 L1034.91 210.72 L1034.93 211.11 L1034.87 211.56 L1034.73 212.08 L1034.54 212.66 L1034.3 213.28 L1034.02 213.93 L1033.72 214.61 L1033.4 215.3Z" fill="#e9e0ec" stroke="#dcdcdc" stroke-width="0.6"/>
<path d="M1012.3 215.3C1015.3 203.75 1018.99 203.13 1022.85 215.3C1026.71 227.47 1030.4 226.85 1033.4 215.3Z" fill="#bda5ce"/>
<path d="M1012.84 215.3V213.36M1013.45 215.3V211.51M1014.05 215.3V209.99M1014.65 215.3V208.75M1015.25 215.3V207.79M1015.86 215.3V207.09M1016.46 215.3V206.64M1017.06 215.3V206.43M1017.67 215.3V206.44M1018.27 215.3V206.68M1018.87 215.3V207.13M1019.47 215.3V207.8M1020.08 215.3V208.68M1020.68 215.3V209.76M1021.28 215.3V211.04M1021.89 215.3V212.52M1022.49 215.3V214.2M1023.69 215.3V217.76M1024.3 215.3V219.29M1024.9 215.3V220.61M1025.5 215.3V221.72M1026.11 215.3V222.64M1026.71 215.3V223.35M1027.31 215.3V223.85M1027.91 215.3V224.13M1028.52 215.3V224.19M1029.12 215.3V224.02M1029.72 215.3V223.62M1030.33 215.3V222.97M1030.93 215.3V222.06M1031.53 215.3V220.89M1032.13 215.3V219.41M1032.74 215.3V217.64" stroke="#1a1a1a" stroke-opacity="0.9" stroke-width="0.14348" fill="none"/>
<path d="M1012.3 215.3C1015.3 203.75 1018.99 203.13 1022.85 215.3C1026.71 227.47 1030.4 226.85 1033.4 215.3" fill="none" stroke="#1a1a1a" stroke-width="0.8" stroke-linejoin="round"/>
<path d="M1042.7 215.3 L1042.3 215.94 L1041.92 216.58 L1041.57 217.19 L1041.27 217.77 L1041.03 218.31 L1040.87 218.79 L1040.79 219.22 L1040.81 219.58 L1040.94 219.86 L1041.19 220.07 L1041.55 220.2 L1042.04 220.24 L1042.65 220.2 L1043.39 220.07 L1044.24 219.86 L1045.21 219.58 L1046.29 219.22 L1047.47 218.79 L1048.73 218.31 L1050.07 217.77 L1051.47 217.19 L1052.92 216.58 L1054.4 215.94 L1055.9 215.3 L1057.4 214.61 L1058.88 213.93 L1060.33 213.28 L1061.73 212.66 L1063.07 212.08 L1064.33 211.56 L1065.51 211.11 L1066.59 210.72 L1067.56 210.42 L1068.41 210.19 L1069.15 210.06 L1069.76 210.01 L1070.25 210.06 L1070.61 210.19 L1070.86 210.42 L1070.99 210.72 L1071.01 211.11 L1070.93 211.56 L1070.77 212.08 L1070.53 212.66 L1070.23 213.28 L1069.88 213.93 L1069.5 214.61 L1069.1 215.3Z" fill="#dde8f1" stroke="#dcdcdc" stroke-width="0.6"/>
<path d="M1042.7 215.3C1046.45 203.75 1051.07 203.13 1055.9 215.3C1060.73 227.47 1065.35 226.85 1069.1 215.3Z" fill="#9cc4e6"/>
<path d="M1043.38 215.3V213.36M1044.13 215.3V211.51M1044.89 215.3V209.99M1045.64 215.3V208.75M1046.4 215.3V207.79M1047.15 215.3V207.09M1047.9 215.3V206.64M1048.66 215.3V206.43M1049.41 215.3V206.44M1050.17 215.3V206.68M1050.92 215.3V207.13M1051.68 215.3V207.8M1052.43 215.3V208.68M1053.18 215.3V209.76M1053.94 215.3V211.04M1054.69 215.3V212.52M1055.45 215.3V214.2M1056.96 215.3V217.76M1057.71 215.3V219.29M1058.46 215.3V220.61M1059.22 215.3V221.72M1059.97 215.3V222.64M1060.73 215.3V223.35M1061.48 215.3V223.85M1062.24 215.3V224.13M1062.99 215.3V224.19M1063.74 215.3V224.02M1064.5 215.3V223.62M1065.25 215.3V222.97M1066.01 215.3V222.06M1066.76 215.3V220.89M1067.52 215.3V219.41M1068.27 215.3V217.64" stroke="#1a1a1a" stroke-opacity="0.9" stroke-width="0.17951999999999999" fill="none"/>
<path d="M1042.7 215.3C1046.45 203.75 1051.07 203.13 1055.9 215.3C1060.73 227.47 1065.35 226.85 1069.1 215.3" fill="none" stroke="#1a1a1a" stroke-width="0.8" stroke-linejoin="round"/>
<path d="M1081.9 215.3 L1081.46 215.94 L1081.03 216.58 L1080.64 217.19 L1080.31 217.77 L1080.04 218.31 L1079.86 218.79 L1079.77 219.22 L1079.8 219.58 L1079.94 219.86 L1080.22 220.07 L1080.62 220.2 L1081.16 220.24 L1081.85 220.2 L1082.67 220.07 L1083.62 219.86 L1084.7 219.58 L1085.9 219.22 L1087.21 218.79 L1088.62 218.31 L1090.11 217.77 L1091.67 217.19 L1093.28 216.58 L1094.93 215.94 L1096.6 215.3 L1098.27 214.61 L1099.92 213.93 L1101.53 213.28 L1103.09 212.66 L1104.58 212.08 L1105.99 211.56 L1107.3 211.11 L1108.5 210.72 L1109.58 210.42 L1110.53 210.19 L1111.35 210.06 L1112.04 210.01 L1112.58 210.06 L1112.98 210.19 L1113.26 210.42 L1113.4 210.72 L1113.43 211.11 L1113.34 211.56 L1113.16 212.08 L1112.89 212.66 L1112.56 213.28 L1112.17 213.93 L1111.74 214.61 L1111.3 215.3Z" fill="#eef5e3" stroke="#dcdcdc" stroke-width="0.6"/>
<path d="M1081.9 215.3C1086.07 203.75 1091.22 203.13 1096.6 215.3C1101.98 227.47 1107.13 226.85 1111.3 215.3Z" fill="#cfe8a8"/>
<path d="M1082.66 215.3V213.36M1083.5 215.3V211.51M1084.34 215.3V209.99M1085.18 215.3V208.75M1086.02 215.3V207.79M1086.86 215.3V207.09M1087.7 215.3V206.64M1088.54 215.3V206.43M1089.38 215.3V206.44M1090.22 215.3V206.68M1091.06 215.3V207.13M1091.9 215.3V207.8M1092.74 215.3V208.68M1093.58 215.3V209.76M1094.42 215.3V211.04M1095.26 215.3V212.52M1096.1 215.3V214.2M1097.78 215.3V217.76M1098.62 215.3V219.29M1099.46 215.3V220.61M1100.3 215.3V221.72M1101.14 215.3V222.64M1101.98 215.3V223.35M1102.82 215.3V223.85M1103.66 215.3V224.13M1104.5 215.3V224.19M1105.34 215.3V224.02M1106.18 215.3V223.62M1107.02 215.3V222.97M1107.86 215.3V222.06M1108.7 215.3V220.89M1109.54 215.3V219.41M1110.38 215.3V217.64" stroke="#1a1a1a" stroke-opacity="0.9" stroke-width="0.19992" fill="none"/>
<path d="M1081.9 215.3C1086.07 203.75 1091.22 203.13 1096.6 215.3C1101.98 227.47 1107.13 226.85 1111.3 215.3" fill="none" stroke="#1a1a1a" stroke-width="0.8" stroke-linejoin="round"/>
<path d="M1120.9 215.3 L1120.39 215.94 L1119.9 216.58 L1119.46 217.19 L1119.07 217.77 L1118.76 218.31 L1118.55 218.79 L1118.45 219.22 L1118.48 219.58 L1118.65 219.86 L1118.96 220.07 L1119.43 220.2 L1120.06 220.24 L1120.84 220.2 L1121.78 220.07 L1122.88 219.86 L1124.12 219.58 L1125.5 219.22 L1127 218.79 L1128.62 218.31 L1130.34 217.77 L1132.13 217.19 L1133.99 216.58 L1135.88 215.94 L1137.8 215.3 L1139.72 214.61 L1141.61 213.93 L1143.47 213.28 L1145.26 212.66 L1146.98 212.08 L1148.6 211.56 L1150.1 211.11 L1151.48 210.72 L1152.72 210.42 L1153.82 210.19 L1154.76 210.06 L1155.55 210.01 L1156.17 210.06 L1156.64 210.19 L1156.95 210.42 L1157.12 210.72 L1157.15 211.11 L1157.05 211.56 L1156.84 212.08 L1156.53 212.66 L1156.14 213.28 L1155.7 213.93 L1155.21 214.61 L1154.7 215.3Z" fill="#f6eadd" stroke="#dcdcdc" stroke-width="0.6"/>
<path d="M1120.9 215.3C1125.7 203.75 1131.61 203.13 1137.8 215.3C1143.99 227.47 1149.9 226.85 1154.7 215.3Z" fill="#ffe1b2"/>
<path d="M1121.77 215.3V213.36M1122.73 215.3V211.51M1123.7 215.3V209.99M1124.67 215.3V208.75M1125.63 215.3V207.79M1126.6 215.3V207.09M1127.56 215.3V206.64M1128.53 215.3V206.43M1129.49 215.3V206.44M1130.46 215.3V206.68M1131.43 215.3V207.13M1132.39 215.3V207.8M1133.36 215.3V208.68M1134.32 215.3V209.76M1135.29 215.3V211.04M1136.25 215.3V212.52M1137.22 215.3V214.2M1139.15 215.3V217.76M1140.12 215.3V219.29M1141.08 215.3V220.61M1142.05 215.3V221.72M1143.01 215.3V222.64M1143.98 215.3V223.35M1144.95 215.3V223.85M1145.91 215.3V224.13M1146.88 215.3V224.19M1147.84 215.3V224.02M1148.81 215.3V223.62M1149.77 215.3V222.97M1150.74 215.3V222.06M1151.71 215.3V220.89M1152.67 215.3V219.41M1153.64 215.3V217.64" stroke="#1a1a1a" stroke-opacity="0.9" stroke-width="0.22983999999999996" fill="none"/>
<path d="M1120.9 215.3C1125.7 203.75 1131.61 203.13 1137.8 215.3C1143.99 227.47 1149.9 226.85 1154.7 215.3" fill="none" stroke="#1a1a1a" stroke-width="0.8" stroke-linejoin="round"/>
<path d="M1162.5 215.3 L1161.93 215.94 L1161.39 216.58 L1160.89 217.19 L1160.46 217.77 L1160.12 218.31 L1159.89 218.79 L1159.78 219.22 L1159.81 219.58 L1160 219.86 L1160.35 220.07 L1160.87 220.2 L1161.56 220.24 L1162.43 220.2 L1163.48 220.07 L1164.7 219.86 L1166.08 219.58 L1167.61 219.22 L1169.29 218.79 L1171.09 218.31 L1173 217.77 L1174.99 217.19 L1177.06 216.58 L1179.17 215.94 L1181.3 215.3 L1183.43 214.61 L1185.54 213.93 L1187.61 213.28 L1189.6 212.66 L1191.51 212.08 L1193.31 211.56 L1194.99 211.11 L1196.52 210.72 L1197.9 210.42 L1199.12 210.19 L1200.17 210.06 L1201.04 210.01 L1201.73 210.06 L1202.25 210.19 L1202.6 210.42 L1202.79 210.72 L1202.82 211.11 L1202.71 211.56 L1202.48 212.08 L1202.14 212.66 L1201.71 213.28 L1201.21 213.93 L1200.67 214.61 L1200.1 215.3Z" fill="#f6e3dc" stroke="#dcdcdc" stroke-width="0.6"/>
<path d="M1162.5 215.3C1167.84 203.75 1174.42 203.13 1181.3 215.3C1188.18 227.47 1194.76 226.85 1200.1 215.3Z" fill="#ffc0a2"/>
<path d="M1163.47 215.3V213.36M1164.54 215.3V211.51M1165.62 215.3V209.99M1166.69 215.3V208.75M1167.76 215.3V207.79M1168.84 215.3V207.09M1169.91 215.3V206.64M1170.99 215.3V206.43M1172.06 215.3V206.44M1173.14 215.3V206.68M1174.21 215.3V207.13M1175.28 215.3V207.8M1176.36 215.3V208.68M1177.43 215.3V209.76M1178.51 215.3V211.04M1179.58 215.3V212.52M1180.66 215.3V214.2M1182.8 215.3V217.76M1183.88 215.3V219.29M1184.95 215.3V220.61M1186.03 215.3V221.72M1187.1 215.3V222.64M1188.18 215.3V223.35M1189.25 215.3V223.85M1190.32 215.3V224.13M1191.4 215.3V224.19M1192.47 215.3V224.02M1193.55 215.3V223.62M1194.62 215.3V222.97M1195.7 215.3V222.06M1196.77 215.3V220.89M1197.84 215.3V219.41M1198.92 215.3V217.64" stroke="#1a1a1a" stroke-opacity="0.9" stroke-width="0.25568" fill="none"/>
<path d="M1162.5 215.3C1167.84 203.75 1174.42 203.13 1181.3 215.3C1188.18 227.47 1194.76 226.85 1200.1 215.3" fill="none" stroke="#1a1a1a" stroke-width="0.8" stroke-linejoin="round"/>
<path d="M1205 215.3 L1204.39 215.94 L1203.8 216.58 L1203.27 217.19 L1202.81 217.77 L1202.44 218.31 L1202.19 218.79 L1202.07 219.22 L1202.1 219.58 L1202.3 219.86 L1202.68 220.07 L1203.24 220.2 L1203.99 220.24 L1204.93 220.2 L1206.05 220.07 L1207.37 219.86 L1208.85 219.58 L1210.51 219.22 L1212.31 218.79 L1214.25 218.31 L1216.31 217.77 L1218.46 217.19 L1220.68 216.58 L1222.95 215.94 L1225.25 215.3 L1227.55 214.61 L1229.82 213.93 L1232.04 213.28 L1234.19 212.66 L1236.25 212.08 L1238.19 211.56 L1239.99 211.11 L1241.65 210.72 L1243.13 210.42 L1244.45 210.19 L1245.57 210.06 L1246.51 210.01 L1247.26 210.06 L1247.82 210.19 L1248.2 210.42 L1248.4 210.72 L1248.43 211.11 L1248.31 211.56 L1248.06 212.08 L1247.69 212.66 L1247.23 213.28 L1246.7 213.93 L1246.11 214.61 L1245.5 215.3Z" fill="#f6dde1" stroke="#dcdcdc" stroke-width="0.6"/>
<path d="M1205 215.3C1210.75 203.75 1217.84 203.13 1225.25 215.3C1232.66 227.47 1239.75 226.85 1245.5 215.3Z" fill="#ffa7ac"/>
<path d="M1206.04 215.3V213.36M1207.2 215.3V211.51M1208.36 215.3V209.99M1209.51 215.3V208.75M1210.67 215.3V207.79M1211.83 215.3V207.09M1212.98 215.3V206.64M1214.14 215.3V206.43M1215.3 215.3V206.44M1216.46 215.3V206.68M1217.61 215.3V207.13M1218.77 215.3V207.8M1219.93 215.3V208.68M1221.08 215.3V209.76M1222.24 215.3V211.04M1223.4 215.3V212.52M1224.56 215.3V214.2M1226.87 215.3V217.76M1228.03 215.3V219.29M1229.18 215.3V220.61M1230.34 215.3V221.72M1231.5 215.3V222.64M1232.66 215.3V223.35M1233.81 215.3V223.85M1234.97 215.3V224.13M1236.13 215.3V224.19M1237.28 215.3V224.02M1238.44 215.3V223.62M1239.6 215.3V222.97M1240.76 215.3V222.06M1241.91 215.3V220.89M1243.07 215.3V219.41M1244.23 215.3V217.64" stroke="#1a1a1a" stroke-opacity="0.9" stroke-width="0.2754" fill="none"/>
<path d="M1205 215.3C1210.75 203.75 1217.84 203.13 1225.25 215.3C1232.66 227.47 1239.75 226.85 1245.5 215.3" fill="none" stroke="#1a1a1a" stroke-width="0.8" stroke-linejoin="round"/>
</g>
<g id="scene">
<rect x="197" y="391" width="278" height="27" fill="url(#beam)"/>
<rect x="197" y="402.3" width="268" height="4.3" fill="#dfeaf0" opacity="0.45"/>
<rect x="197" y="403.4" width="270" height="2.1" fill="#ffffff"/>
<rect x="563" y="396.5" width="393" height="16" fill="url(#rglow)"/>
<rect x="563" y="402.8" width="393" height="3.7" fill="#f5a1a5"/>
<rect x="951" y="389" width="5.5" height="29" fill="url(#rend)"/>
<path d="M112.7 388.2L193.6 389.6A5 15.9 0 0 1 193.6 421.3L112.7 420.4A4.2 16.1 0 0 1 112.7 388.2Z" fill="url(#cyl)"/>
<path d="M115.4 396.2L189 398.4V411.8L115.4 413.8Q119.5 405 115.4 396.2Z" fill="#ffffff" opacity="0.16"/>
<path d="M115.4 396.2L189 398.4" stroke="#e6e6e6" stroke-width="0.7" opacity="0.8" fill="none"/>
<path d="M112.9 417.6L192 414L193.6 421.3L112.7 420.4Z" fill="#878787" opacity="0.75"/>
<ellipse cx="194" cy="405.4" rx="5" ry="15.9" fill="#808080"/>
<ellipse cx="194.2" cy="405.2" rx="2.9" ry="7.7" fill="url(#hole)"/>
<text class="lb" x="112.1" y="377.4">光源</text>
<text class="lb" x="262.2" y="394.4">入射光</text>
<text class="lb" x="678.4" y="396.2">透射光</text>
<text class="lb" style="font-size:17px" x="570.4" y="425">樣本</text>
<path d="M496.1 341.3L453.6 417.2C451.3 421.5 451.6 424.5 454.5 428C461.5 436 471 441.4 480 441.9C486.5 441.6 498 436.8 515 430.7C530 427.3 548 425.2 561.7 420.7C566.5 419 569.8 415.6 566.9 410.3L529.6 341.3Q513 336.6 496.1 341.3Z" fill="url(#cone)"/>
<path d="M496.1 341.3L453.6 417.2C451.3 421.5 451.6 424.5 454.5 428L459.5 424.5C457.6 422 457.6 420.3 459 417.6L500.5 342.5Z" fill="#b9b9b9" opacity="0.85"/>
<path d="M454.5 428C461.5 436 471 441.4 480 441.9C486.5 441.6 498 436.8 515 430.7C530 427.3 548 425.2 561.7 420.7C566.5 419 569.8 415.6 566.9 410.3" fill="none" stroke="#cfcfcf" stroke-width="2.6" stroke-linecap="round"/>
<path d="M566.9 410.3L529.6 341.3L526.5 342L563.2 410.8Z" fill="#bdbdbd" opacity="0.8"/>
<path d="M479 368L496 372L472.6 433C466 431 459.5 426 458.2 421.5Z" fill="url(#lglass)"/>
<path d="M491.6 379.6Q515 375.2 535.9 378.6Q544 379.6 549.5 381.8L564.3 409C566.3 413 564.8 416.6 559.2 419.3C548 423 530 425 515 428.6C503 432 492 436.6 483.8 438.1C478 439 474 437 472.7 433.4C471.8 430.5 473 426 475 421Z" fill="url(#liq)"/>
<clipPath id="lq"><path d="M491.6 379.6Q515 375.2 535.9 378.6Q544 379.6 549.5 381.8L564.3 409C566.3 413 564.8 416.6 559.2 419.3C548 423 530 425 515 428.6C503 432 492 436.6 483.8 438.1C478 439 474 437 472.7 433.4C471.8 430.5 473 426 475 421Z"/></clipPath>
<g clip-path="url(#lq)">
<path d="M476 419Q510 392 552 384L556 390Q515 398 478 428Z" fill="#ffffff" opacity="0.10"/>
<rect x="470" y="403.8" width="100" height="1.8" fill="url(#inbeam)"/>
</g>
<ellipse cx="467" cy="404.4" rx="7" ry="1.6" fill="#ffffff" opacity="0.9"/>
<circle cx="472" cy="404" r="4.2" fill="url(#glow)"/>
<path d="M496.2 298C497.6 311 497.2 330 496.1 341.3Q513 336.6 529.6 341.3C528.6 330 528.3 311 529.5 298Z" fill="url(#neck)"/>
<path d="M492.9 294.2C493.2 291 503 289.2 512.5 289.2C522 289.2 531.4 290.5 531.7 292.9C531.6 295.2 530 297.2 529.5 300Q513 303.5 496.2 300C495.6 297.5 493.4 296.2 492.9 294.2Z" fill="url(#rim)"/>
<ellipse cx="512.3" cy="292.8" rx="18.4" ry="3.3" fill="url(#rimtop)"/>
<circle cx="508.8" cy="397.2" r="5.3" fill="url(#ballb)" stroke="#0f4a1c" stroke-width="1"/>
<circle cx="526.9" cy="392.1" r="5.2" fill="url(#balld)"/>
<circle cx="543.2" cy="394.5" r="5.3" fill="url(#ballb)" stroke="#0f4a1c" stroke-width="1"/>
<circle cx="494.6" cy="418.8" r="5.3" fill="url(#ballb)" stroke="#0f4a1c" stroke-width="1"/>
<circle cx="514.4" cy="418.7" r="5.2" fill="url(#balld)"/>
<circle cx="532.4" cy="413.2" r="5.3" fill="url(#ballb)" stroke="#0f4a1c" stroke-width="1"/>
<circle cx="554" cy="413.2" r="5.2" fill="url(#balld)"/>
<circle cx="484.4" cy="424.6" r="5.2" fill="url(#balld)"/>
<path d="M956 387L965.1 376.4H1073.8L1065.8 387Z" fill="#87766a"/>
<path d="M1065.8 387L1073.8 376.4L1074.7 408.8L1065.8 419Z" fill="#5f524a"/>
<rect x="956" y="387" width="109.8" height="32" fill="#9b8577"/>
<path d="M956 387H1065.8L1056.2 396.2H960Z" fill="#a08b7d"/>
<path d="M956 419H1065.8L1056.2 413.8H960Z" fill="#6a5a50"/>
<path d="M1065.8 387V419L1056.2 413.8V396.2Z" fill="#6f6158"/>
<path d="M956 387V419L960 413.8V396.2Z" fill="#8d786b"/>
<path d="M956 387H1065.8M960 396.2H1056.2M956 387L960 396.2M1065.8 387L1056.2 396.2" stroke="#b39e90" stroke-width="0.6" fill="none" opacity="0.9"/>
</g>
<text class="st" x="167.6" y="511">發射</text>
<text class="st" x="448" y="511">吸收</text>
<text class="st" x="701.6" y="511">傳射</text>
<text class="st" x="988.2" y="511">檢測</text>
</svg></body></html>
